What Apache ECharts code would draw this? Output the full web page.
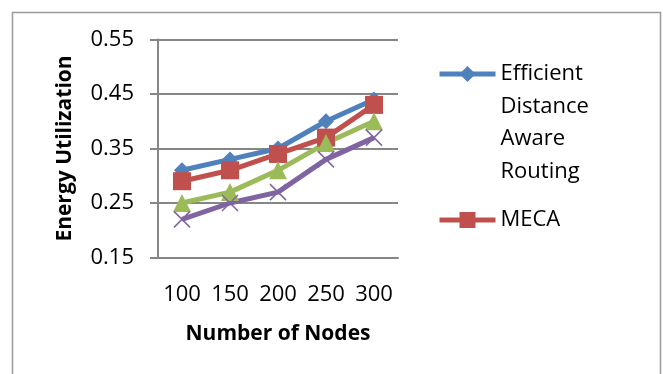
<!DOCTYPE html>
<html>
<head>
<meta charset="utf-8">
<script src="https://cdn.jsdelivr.net/npm/echarts@6/dist/echarts.min.js"></script>
<style>
  html, body { margin: 0; padding: 0; background: #fff; }
  #chart { width: 663px; height: 374px; }
</style>
</head>
<body>
<div id="chart"></div>
<script>
// node counts on the category axis
const nodes = ['100', '150', '200', '250', '300']

// energy utilization per method
const edar = [0.31, 0.33, 0.35, 0.40, 0.44]
const meca = [0.29, 0.31, 0.34, 0.37, 0.43]
const series3 = [0.25, 0.27, 0.31, 0.36, 0.40]
const series4 = [0.22, 0.25, 0.27, 0.33, 0.37]

// y axis ticks: 0.15 .. 0.55
const yMin = 0.15
const yMax = 0.55
const yStep = 0.1

const font = '"Open Sans", "Liberation Sans", sans-serif'
const gridGray = '#868686'

const chart = echarts.init(document.getElementById('chart'))

function lineSeries(name, data, color, symbol, size, extra) {
  return Object.assign({
    name: name,
    type: 'line',
    data: data,
    symbol: symbol,
    symbolSize: size,
    showAllSymbol: true,
    lineStyle: { color: color, width: 5 },
    itemStyle: { color: color },
    emphasis: { disabled: true },
    animation: false
  }, extra || {})
}

const legendBase = {
  orient: 'vertical',
  left: 437,
  padding: 0,
  itemWidth: 56,
  itemHeight: 20,
  lineStyle: { width: 5 },
  textStyle: { fontFamily: font, fontSize: 22, color: '#000', lineHeight: 32.5 }
}

const option = {
  backgroundColor: '#fff',
  textStyle: { fontFamily: font },
  graphic: [{
    type: 'rect',
    shape: { x: 12.5, y: 12.5, width: 648, height: 420 },
    style: { fill: 'none', stroke: '#9a9a9a', lineWidth: 1.5 },
    silent: true
  }],
  grid: { left: 158, right: 265, top: 39.5, bottom: 116.5 },
  legend: [
    Object.assign({}, legendBase, {
      data: ['Efficient Distance Aware Routing'],
      top: -39.75,
      // blank lines keep the first word level with the icon
      formatter: () => '\n\n\nEfficient\nDistance\nAware\nRouting'
    }),
    Object.assign({}, legendBase, {
      data: ['MECA'],
      top: 203.75
    })
  ],
  xAxis: {
    type: 'category',
    data: nodes,
    boundaryGap: true,
    name: 'Number of Nodes',
    nameLocation: 'middle',
    nameGap: 66,
    nameTextStyle: { fontFamily: font, fontSize: 21, fontWeight: 'bold', color: '#000' },
    axisLine: { show: true, lineStyle: { color: gridGray, width: 2 } },
    axisTick: { show: false },
    axisLabel: { fontFamily: font, fontSize: 22, color: '#000', margin: 26, interval: 0, hideOverlap: false },
    splitLine: { show: false }
  },
  yAxis: {
    type: 'value',
    min: yMin,
    max: yMax,
    interval: yStep,
    name: 'Energy Utilization',
    nameLocation: 'middle',
    nameGap: 82,
    nameTextStyle: { fontFamily: font, fontSize: 21, fontWeight: 'bold', color: '#000' },
    axisLine: { show: true, lineStyle: { color: gridGray, width: 2 } },
    axisTick: { show: true, length: 8, lineStyle: { color: gridGray, width: 2 } },
    axisLabel: {
      fontFamily: font, fontSize: 22, color: '#000', margin: 24,
      formatter: (v) => v.toFixed(2)
    },
    splitLine: { show: true, lineStyle: { color: gridGray, width: 2 } }
  },
  series: [
    lineSeries('Efficient Distance Aware Routing', edar, '#4F81BD', 'diamond', 16),
    lineSeries('MECA', meca, '#C0504D', 'rect', 18),
    lineSeries('Series 3', series3, '#9BBB59', 'triangle', 18),
    lineSeries('Series 4', series4, '#8064A2', 'path://M0,0L10,10M10,0L0,10', 16, {
      itemStyle: { color: '#8064A2', borderColor: '#8064A2', borderWidth: 1.5 }
    })
  ]
}

chart.setOption(option)
window.addEventListener('resize', () => chart.resize())
</script>
</body>
</html>
